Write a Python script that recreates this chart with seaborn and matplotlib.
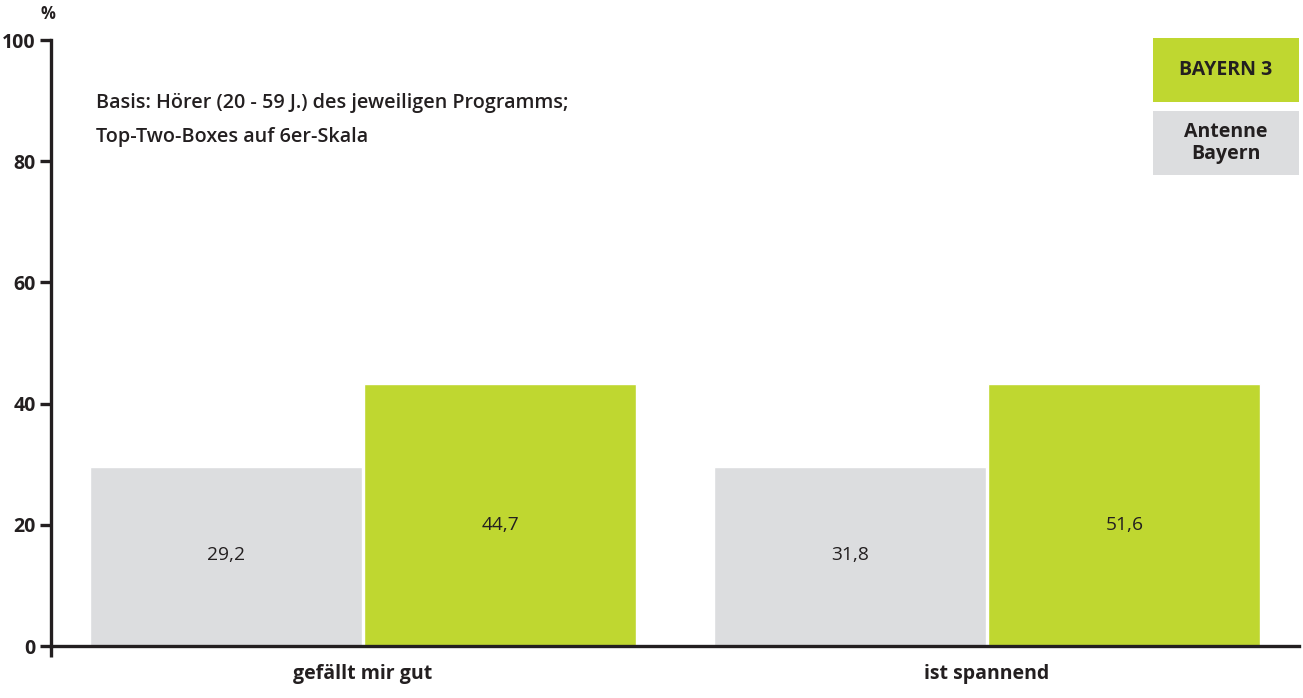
import matplotlib
matplotlib.use("Agg")
import matplotlib.pyplot as plt
from matplotlib.patches import Rectangle
import seaborn as sns
import pandas as pd

# ---- data ----
categories = ["gefällt mir gut", "ist spannend"]
series_names = ["Antenne Bayern", "BAYERN 3"]
antenne_heights = [29.5, 29.5]      # drawn bar heights
bayern3_heights = [43.2, 43.2]
antenne_labels = ["29,2", "31,8"]   # printed values
bayern3_labels = ["44,7", "51,6"]
y_ticks = [0, 20, 40, 60, 80, 100]
note_lines = ["Basis: Hörer (20 - 59 J.) des jeweiligen Programms;",
              "Top-Two-Boxes auf 6er-Skala"]

GREEN = "#bfd730"
GREY = "#dcdddf"
INK = "#231f20"

df = pd.DataFrame({
    "Kategorie": categories * 2,
    "Programm": [series_names[0]] * 2 + [series_names[1]] * 2,
    "Wert": antenne_heights + bayern3_heights,
})

sns.set_theme(style="white")
plt.rcParams["font.family"] = ["Open Sans", "DejaVu Sans"]

fig = plt.figure(figsize=(13.03, 6.98), dpi=100)
ax = fig.add_axes([51 / 1303, 52 / 698, 1248 / 1303, 606 / 698])

sns.barplot(data=df, x="Kategorie", y="Wert", hue="Programm",
            order=categories, hue_order=series_names,
            palette=[GREY, GREEN], saturation=1, width=0.88, gap=0.008,
            legend=False, ax=ax, errorbar=None)

ax.set_xlim(-0.5, 1.5)
ax.set_ylim(0, 100)
ax.set_yticks(y_ticks)
ax.set_yticklabels([str(t) for t in y_ticks])
ax.set_xlabel("")
ax.set_ylabel("")

for s in ["top", "right"]:
    ax.spines[s].set_visible(False)
for s in ["left", "bottom"]:
    ax.spines[s].set_color(INK)
    ax.spines[s].set_linewidth(2.4)

ax.tick_params(axis="y", which="major", direction="out", length=8, width=2.4,
               color=INK, labelcolor=INK, labelsize=14, pad=3, left=True)
ax.tick_params(axis="x", which="major", length=0, labelcolor=INK,
               labelsize=14, pad=13)
ax.set_xticks([-0.5], minor=True)
ax.tick_params(axis="x", which="minor", direction="out", length=8, width=2.4,
               color=INK, bottom=True)
for lab in ax.get_yticklabels() + ax.get_xticklabels():
    lab.set_fontweight("bold")

# value labels
label_y = {0: 15.0, 1: 20.0}
for hi, (container, labels) in enumerate(zip(ax.containers, [antenne_labels, bayern3_labels])):
    for bar, txt in zip(container, labels):
        ax.text(bar.get_x() + bar.get_width() / 2, label_y[hi], txt,
                ha="center", va="center", fontsize=13.8, color=INK)

# percent sign
ax.text(-0.0024, 1.043, "%", transform=ax.transAxes, ha="center", va="center",
        fontsize=12, color=INK, fontweight="bold")

# note
ax.text(0.036, 0.896, note_lines[0], transform=ax.transAxes, ha="left",
        va="center", fontsize=14.2, color=INK, fontweight="semibold")
ax.text(0.036, 0.840, note_lines[1], transform=ax.transAxes, ha="left",
        va="center", fontsize=14.2, color=INK, fontweight="semibold")

# legend boxes
x0 = (1153 - 51) / 1248
ax.add_patch(Rectangle((x0, 0.8977), 1 - x0, 0.1056, transform=ax.transAxes,
                       facecolor=GREEN, edgecolor="none", clip_on=False))
ax.add_patch(Rectangle((x0, 0.7772), 1 - x0, 0.1056, transform=ax.transAxes,
                       facecolor=GREY, edgecolor="none", clip_on=False))
xc = (x0 + 1) / 2
ax.text(xc, 0.9505, "BAYERN 3", transform=ax.transAxes, ha="center",
        va="center", fontsize=14, color=INK, fontweight="bold")
ax.text(xc, 0.8300, "Antenne\nBayern", transform=ax.transAxes, ha="center",
        va="center", fontsize=14, color=INK, fontweight="bold",
        linespacing=1.1)

fig.savefig("out.png", dpi=100)
